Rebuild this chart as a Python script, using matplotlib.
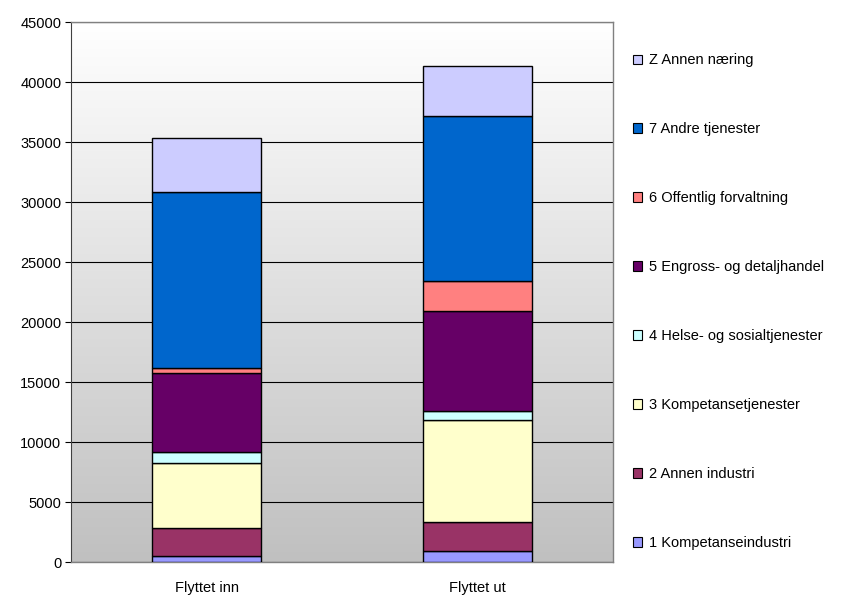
import numpy as np
import matplotlib.pyplot as plt

plt.rcParams['font.family'] = ['Liberation Sans', 'DejaVu Sans']

# --- data ---
categories = ["Flyttet inn", "Flyttet ut"]
series_names = [
    "1 Kompetanseindustri",
    "2 Annen industri",
    "3 Kompetansetjenester",
    "4 Helse- og sosialtjenester",
    "5 Engross- og detaljhandel",
    "6 Offentlig forvaltning",
    "7 Andre tjenester",
    "Z Annen næring",
]
kompetanseindustri = [500, 900]
annen_industri = [2300, 2400]
kompetansetjenester = [5440, 8500]
helse_sosial = [890, 800]
engross_detalj = [6650, 8300]
offentlig = [360, 2500]
andre_tjenester = [14700, 13800]
annen_naering = [4520, 4100]

series_values = [kompetanseindustri, annen_industri, kompetansetjenester,
                 helse_sosial, engross_detalj, offentlig, andre_tjenester,
                 annen_naering]
colors = ["#9999FF", "#993366", "#FFFFCC", "#CCFFFF",
          "#660066", "#FF8080", "#0066CC", "#CCCCFF"]

fig = plt.figure(figsize=(8.56, 5.95), dpi=100, facecolor="white")
ax = fig.add_axes([71 / 856, 1 - 562 / 595, 542 / 856, 540 / 595])

# gradient background (white top -> grey bottom)
grad = np.linspace(0, 1, 256).reshape(-1, 1)
ax.imshow(grad, extent=[0, 1, 0, 1], transform=ax.transAxes, aspect="auto",
          cmap=plt.matplotlib.colors.LinearSegmentedColormap.from_list(
              "bg", ["#FFFFFF", "#C0C0C0"]),
          origin="upper", zorder=0)

x = np.arange(len(categories))
bottom = np.zeros(len(categories))
handles = []
for name, vals, col in zip(series_names, series_values, colors):
    b = ax.bar(x, vals, width=0.405, bottom=bottom, color=col,
               edgecolor="black", linewidth=1.0, label=name, zorder=3)
    handles.append(b)
    bottom += np.array(vals)

ax.set_xlim(-0.5, 1.5)
ax.set_ylim(0, 45000)
ax.set_yticks(np.arange(0, 45001, 5000))
ax.set_xticks(x)
ax.set_xticklabels(categories)
ax.yaxis.grid(True, color="black", linewidth=0.8, zorder=1)
ax.set_axisbelow(True)

for s in ["top", "right", "bottom"]:
    ax.spines[s].set_color("#808080")
    ax.spines[s].set_linewidth(1.0)
ax.spines["left"].set_color("#404040")
ax.tick_params(axis="y", labelsize=10.5, length=4, direction="out", pad=3)
ax.tick_params(axis="x", labelsize=10.5, length=0, pad=14)

leg = fig.legend(handles[::-1], series_names[::-1], loc="upper left",
                 bbox_to_anchor=(626 / 856, 1 - 46 / 595), frameon=False,
                 fontsize=10.5, labelspacing=3.77, handlelength=0.6,
                 handleheight=0.6, handletextpad=0.5, borderpad=0)
for h in leg.legend_handles:
    h.set_linewidth(0.8)

fig.savefig("out.png", dpi=100)
